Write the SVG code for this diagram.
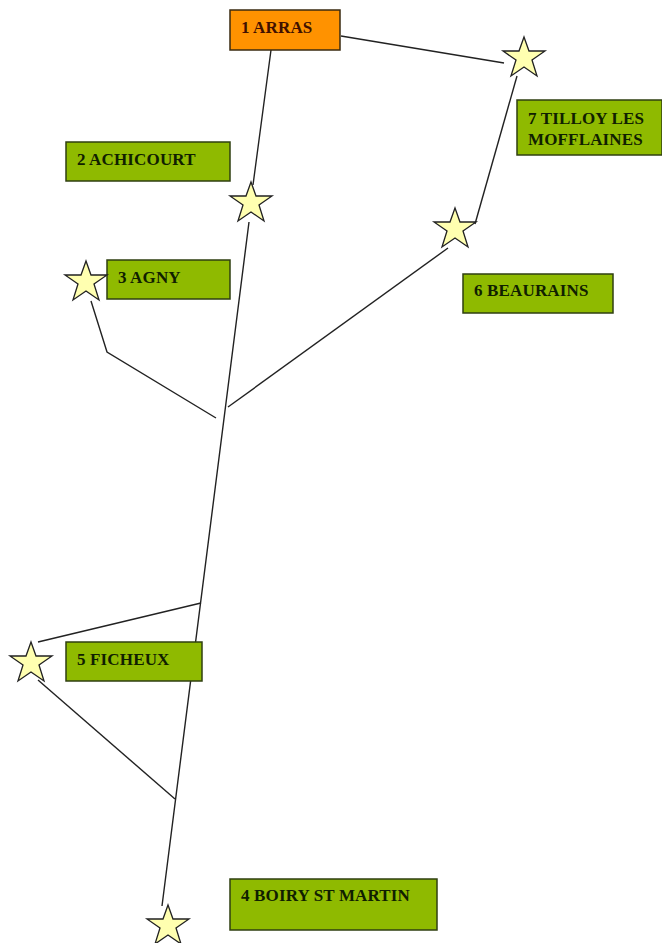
<svg xmlns="http://www.w3.org/2000/svg" width="662" height="943" viewBox="0 0 662 943">
<defs>
<polygon id="star" points="0,-21 5,-7 21,-7 8,2 13,18 0,9 -13,18 -8,2 -21,-7 -5,-7"/>
</defs>
<style>
.box{fill:#8fba00;stroke:#2f3f10;stroke-width:1.5}
.org{fill:#ff9200;stroke:#3a2a10;stroke-width:1.5}
.s{fill:#ffffb0;stroke:#222;stroke-width:1.3}
.l{fill:none;stroke:#222;stroke-width:1.4}
text{font-family:"Liberation Serif","Times New Roman",serif;font-weight:bold;font-size:17px;fill:#102000;letter-spacing:.15px}
.d{fill:#401000}
</style>
<rect width="662" height="943" fill="#fff"/>
<g id="connectors">
<path class="l" d="M271 50L253 185M249 222L162 906"/>
<path class="l" d="M341 36L504 63"/>
<path class="l" d="M517 76L475 224"/>
<path class="l" d="M448 248L228 407"/>
<path class="l" d="M91 301L107 352L216 418"/>
<path class="l" d="M38 642L201 603"/>
<path class="l" d="M38 680L175 799"/>
</g>
<g id="n1"><rect class="org" x="230" y="10" width="110" height="40"/><text class="d" x="241" y="33">1 ARRAS</text></g>
<g id="n2"><rect class="box" x="66" y="142" width="164" height="39"/><text x="77" y="165">2 ACHICOURT</text></g>
<g id="n3"><rect class="box" x="107" y="260" width="123" height="39"/><text x="118" y="283">3 AGNY</text></g>
<g id="n4"><rect class="box" x="230" y="879" width="207" height="51"/><text x="241" y="901">4 BOIRY ST MARTIN</text></g>
<g id="n5"><rect class="box" x="66" y="642" width="136" height="39"/><text x="77" y="665">5 FICHEUX</text></g>
<g id="n6"><rect class="box" x="463" y="274" width="150" height="39"/><text x="474" y="296">6 BEAURAINS</text></g>
<g id="n7"><rect class="box" x="517" y="100" width="145" height="55"/><text x="528" y="124">7 TILLOY LES</text><text x="528" y="145">MOFFLAINES</text></g>
<g id="s1"><use href="#star" class="s" x="524" y="58"/></g>
<g id="s2"><use href="#star" class="s" x="251" y="203"/></g>
<g id="s3"><use href="#star" class="s" x="86" y="282"/></g>
<g id="s4"><use href="#star" class="s" x="168" y="926"/></g>
<g id="s5"><use href="#star" class="s" x="31" y="663"/></g>
<g id="s6"><use href="#star" class="s" x="455" y="229"/></g>
</svg>
